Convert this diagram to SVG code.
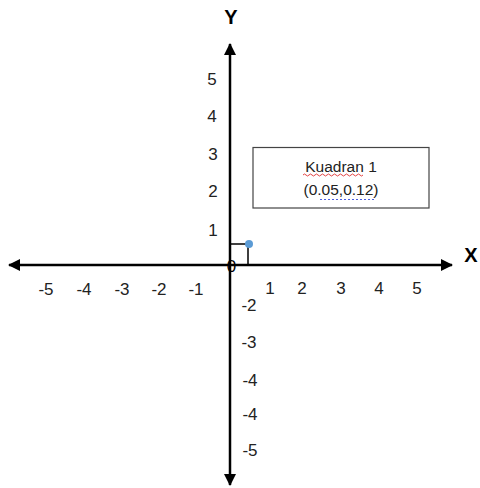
<svg xmlns="http://www.w3.org/2000/svg" width="480" height="488" viewBox="0 0 480 488">
<style>
.lbl{font-family:"Liberation Sans",Arial,sans-serif;font-size:17px;fill:#222;text-anchor:middle}
.axl{font-family:"Liberation Sans",Arial,sans-serif;font-size:20px;font-weight:bold;fill:#000;text-anchor:middle}
.box{font-family:"Liberation Sans",Arial,sans-serif;font-size:15.5px;fill:#222;text-anchor:middle}
.axis{stroke:#000;stroke-width:2.5;fill:none}
</style>
<defs>
<marker id="ah" viewBox="0 0 12 12" refX="11" refY="6" markerWidth="12" markerHeight="12" markerUnits="userSpaceOnUse" orient="auto">
<path d="M0,0 L12,6 L0,12 Z" fill="#000"/>
</marker>
</defs>
<rect width="480" height="488" fill="#fff"/>
<g id="connectors">
<line class="axis" x1="230" y1="265" x2="452" y2="265" marker-end="url(#ah)"/>
<line class="axis" x1="230" y1="265" x2="9" y2="265" marker-end="url(#ah)"/>
<line class="axis" x1="230" y1="265" x2="230" y2="44" marker-end="url(#ah)"/>
<line class="axis" x1="230" y1="265" x2="230" y2="485" marker-end="url(#ah)"/>
<polyline points="230,244 248,244 248,265" fill="none" stroke="#000" stroke-width="1.5"/>
</g>
<g id="axis-labels">
<text class="axl" x="231" y="24">Y</text>
<text class="axl" x="471" y="262">X</text>
</g>
<g id="x-ticks">
<text class="lbl" x="46" y="295">-5</text>
<text class="lbl" x="84" y="295">-4</text>
<text class="lbl" x="122" y="295">-3</text>
<text class="lbl" x="159" y="295">-2</text>
<text class="lbl" x="196" y="295">-1</text>
<text class="lbl" x="270" y="294">1</text>
<text class="lbl" x="302" y="294">2</text>
<text class="lbl" x="341" y="294">3</text>
<text class="lbl" x="379" y="294">4</text>
<text class="lbl" x="417" y="294">5</text>
</g>
<g id="y-ticks">
<text class="lbl" x="212" y="85">5</text>
<text class="lbl" x="212" y="122">4</text>
<text class="lbl" x="213" y="160">3</text>
<text class="lbl" x="213" y="197">2</text>
<text class="lbl" x="213" y="236">1</text>
<text class="lbl" x="249" y="311">-2</text>
<text class="lbl" x="249" y="348">-3</text>
<text class="lbl" x="250" y="386">-4</text>
<text class="lbl" x="250" y="420">-4</text>
<text class="lbl" x="250" y="456">-5</text>
</g>
<g id="origin">
<text class="lbl" x="231.5" y="272" style="fill:#000">0</text>
</g>
<g id="point">
<circle cx="249" cy="244" r="4" fill="#5B9BD5"/>
</g>
<g id="kuadran-box">
<rect x="253" y="147.5" width="176" height="60.5" fill="#fff" stroke="#444" stroke-width="1.2"/>
<text class="box" x="341" y="172">Kuadran 1</text>
<text class="box" x="341" y="195">(0.05,0.12)</text>
<path d="M303,175 q1.5,-2 3,0 t3,0 t3,0 t3,0 t3,0 t3,0 t3,0 t3,0 t3,0 t3,0 t3,0 t3,0 t3,0 t3,0 t3,0 t3,0 t3,0 t3,0 t3,0 t3,0" fill="none" stroke="#e03030" stroke-width="0.9"/>
<line x1="320" y1="199.5" x2="376" y2="199.5" stroke="#4a5ee0" stroke-width="1" stroke-dasharray="2,2"/>
</g>
</svg>
